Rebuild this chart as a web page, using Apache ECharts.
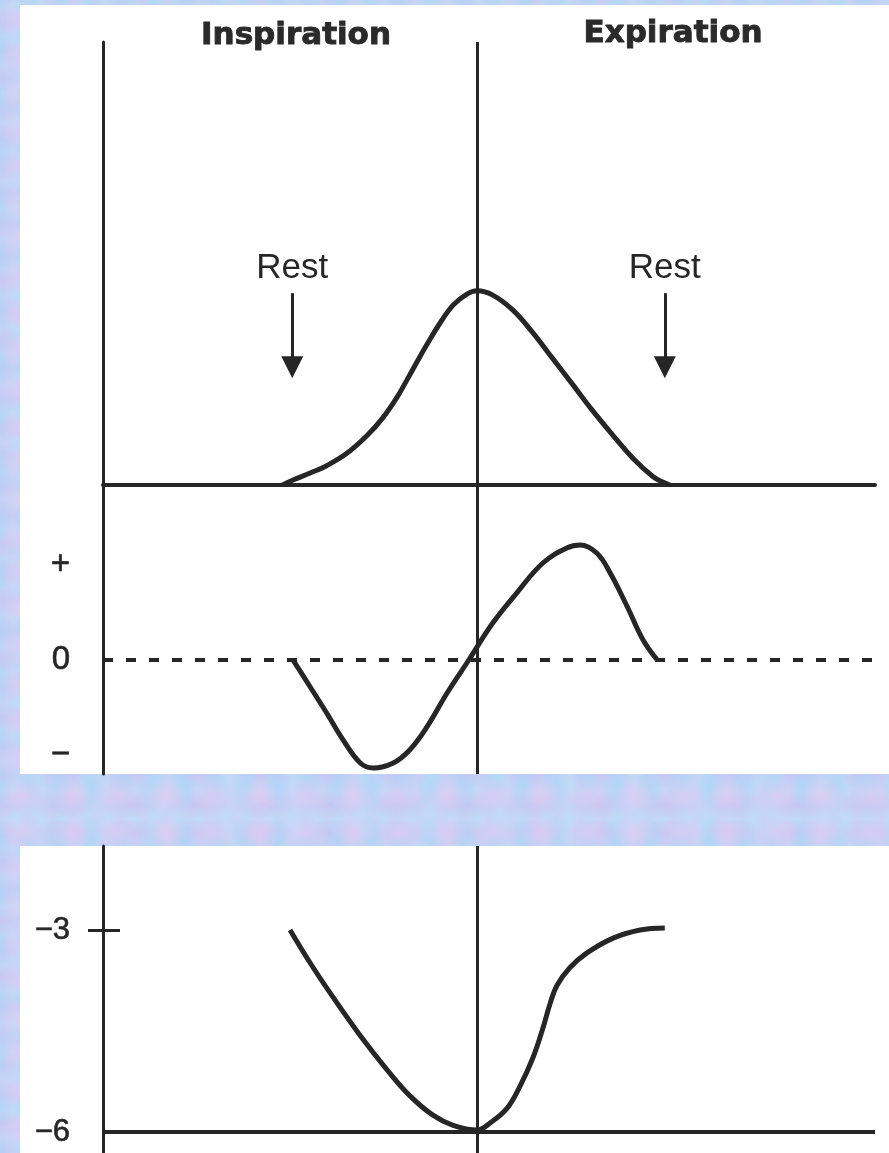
<!DOCTYPE html>
<html>
<head>
<meta charset="utf-8">
<script src="https://cdn.jsdelivr.net/npm/echarts@6/dist/echarts.min.js"></script>
<style>
  html, body { margin:0; padding:0; width:889px; height:1153px; overflow:hidden; }
  body {
    background-color:#c6d4f6;
    background-image:
      radial-gradient(ellipse at center, rgba(226,202,242,0.75) 0%, rgba(226,202,242,0) 70%),
      radial-gradient(ellipse at center, rgba(168,214,246,0.7) 0%, rgba(168,214,246,0) 70%),
      radial-gradient(ellipse at center, rgba(200,192,240,0.7) 0%, rgba(200,192,240,0) 70%),
      radial-gradient(ellipse at center, rgba(185,225,248,0.6) 0%, rgba(185,225,248,0) 70%);
    background-size: 47px 37px, 31px 53px, 67px 29px, 23px 41px;
    background-position: 0 0, 13px 19px, 29px 7px, 5px 23px;
  }
  .panel { position:absolute; background:#fff; }
  #chart { position:absolute; left:0; top:0; width:889px; height:1153px; }
</style>
</head>
<body>
<div class="panel" style="left:20px;top:5px;width:869px;height:769px;"></div>
<div class="panel" style="left:20px;top:846px;width:869px;height:307px;"></div>
<div id="chart"></div>
<script>
// ---- data (time axis: arbitrary units, center line at t = 50) ----
const xMin = 0, xMax = 103.2, tCenter = 50;

// Top panel: lung volume above resting level
const tVolume = [24.0, 25.4, 27.7, 29.9, 32.6, 35.3, 37.4, 39.3, 40.6, 42.0, 43.3, 45.1, 46.8, 48.6, 50.0,
                 52.1, 54.8, 57.4, 60.1, 62.8, 65.4, 68.2, 70.9, 73.5, 74.9, 75.8];
const volume  = [0.0, 0.013, 0.031, 0.050, 0.082, 0.128, 0.174, 0.227, 0.271, 0.320, 0.364, 0.421, 0.466, 0.494, 0.503,
                 0.492, 0.453, 0.396, 0.328, 0.260, 0.194, 0.128, 0.068, 0.022, 0.007, 0.0];

// Middle panel: airflow (+ / 0 / −)
const tFlow = [25.4, 27.7, 29.9, 32.1, 34.4, 36.1, 38.8, 41.0, 43.3, 46.0, 48.9,
               52.1, 55.3, 58.8, 62.0, 63.8, 66.0, 67.8, 70.1, 72.2, 74.1];
const flow  = [0.0, -0.284, -0.558, -0.842, -1.084, -1.137, -1.084, -0.947, -0.705, -0.347, 0.0,
               0.389, 0.705, 1.021, 1.179, 1.211, 1.126, 0.916, 0.558, 0.211, 0.0];
const flowTicks = [1, 0, -1];
const flowTickLabels = ['+', '0', '\u2212'];

// Bottom panel: pleural pressure
const tPressure = [25.0, 27.7, 30.7, 34.4, 38.0, 41.0, 44.1, 46.8, 50.0, 51.7, 54.0, 55.7, 57.5, 58.8,
                   59.8, 60.7, 62.4, 64.7, 68.2, 71.8, 75.1];
const pressure  = [-3.00, -3.49, -3.99, -4.57, -5.08, -5.46, -5.75, -5.90, -5.97, -5.87, -5.65, -5.33, -4.89, -4.46,
                   -4.08, -3.82, -3.56, -3.34, -3.12, -3.00, -2.97];
const pressureTicks = [-3, -6];
const pressureBase = -6;

// Annotations
const phaseLabels = ['Inspiration', 'Expiration'];
const restLabel = 'Rest';
const restArrowT = [25.3, 75.1];
const restArrowFrom = 0.497, restArrowTo = 0.305;
const restLabelV = 0.56;

// ---- chart ----
const ink = '#262626';
const pair = (xs, ys) => xs.map((x, i) => [x, ys[i]]);
const chart = echarts.init(document.getElementById('chart'), null, { renderer: 'canvas' });

const hiddenX = (gi) => ({ type:'value', gridIndex:gi, min:xMin, max:xMax, show:false });
const titleStyle = { fontFamily: 'DejaVu Sans', fontWeight: 'bold', fontSize: 31, color: '#2a2a2a',
                     textBorderColor: '#2a2a2a', textBorderWidth: 0.9 };
const pMin = -6 - 21/67.33, pMax = -6 + 286/67.33;

const option = {
  animation: false,
  backgroundColor: 'transparent',
  title: [
    { text: phaseLabels[0], left: 291, top: 15, textAlign: 'center', textStyle: titleStyle },
    { text: phaseLabels[1], left: 668, top: 13, textAlign: 'center', textStyle: titleStyle }
  ],
  grid: [
    { left: 103, right: 14, top: 42, bottom: 1153 - 485 },
    { left: 103, right: 14, top: 485, bottom: 1153 - 774 },
    { left: 103, right: 14, top: 846, bottom: 0 }
  ],
  xAxis: [
    { type:'value', gridIndex:0, min:xMin, max:xMax,
      axisLine: { show:true, lineStyle:{ color: ink, width: 4 } },
      axisTick: { show:false }, axisLabel: { show:false }, splitLine: { show:false } },
    hiddenX(1),
    hiddenX(2)
  ],
  yAxis: [
    { type:'value', gridIndex:0, min:0, max:(485-42)/386,
      axisLine: { show:true, lineStyle:{ color: ink, width: 3 } },
      axisTick: { show:false }, axisLabel: { show:false }, splitLine: { show:false } },
    { type:'value', gridIndex:1, min:-1.2, max:(660-485)/95,
      axisLine: { show:true, onZero:false, lineStyle:{ color: ink, width: 3 } },
      axisTick: { show:false }, splitLine: { show:false },
      axisLabel: { show:true, customValues: flowTicks, margin: 33,
        formatter: (v) => flowTickLabels[flowTicks.indexOf(v)],
        fontFamily: 'Liberation Sans', fontSize: 33, color: ink,
        textBorderColor: ink, textBorderWidth: 0.6 } },
    { type:'value', gridIndex:2, position:'left', min:pMin, max:pMax,
      axisLine: { show:true, onZero:false, lineStyle:{ color: ink, width: 3 } },
      axisTick: { show:true, customValues: [pressureTicks[0]], length: 15, lineStyle:{ color: ink, width: 3 } },
      splitLine: { show:false },
      axisLabel: { show:true, customValues: pressureTicks, margin: 33,
        formatter: (v) => '\u2212' + Math.abs(v),
        fontFamily: 'Liberation Sans', fontSize: 31, color: ink,
        textBorderColor: ink, textBorderWidth: 0.6 } },
    { type:'value', gridIndex:2, position:'left', offset:0, min:pMin, max:pMax,
      axisLine: { show:false },
      axisTick: { show:true, inside:true, customValues: [pressureTicks[0]], length: 17, lineStyle:{ color: ink, width: 3 } },
      axisLabel: { show:false }, splitLine: { show:false } }
  ],
  series: [
    { type:'line', xAxisIndex:0, yAxisIndex:0, data: pair(tVolume, volume),
      smooth: 0.4, symbol:'none', lineStyle:{ color: ink, width: 5 },
      markLine: { silent:true, animation:false, symbol:['none','none'], label:{ show:false },
        lineStyle:{ color: ink, width: 3, type:'solid' },
        data: [
          { xAxis: tCenter },
          [ { coord:[restArrowT[0], restArrowFrom], symbol:'none' },
            { coord:[restArrowT[0], restArrowTo], symbol:'triangle', symbolSize: 22 } ],
          [ { coord:[restArrowT[1], restArrowFrom], symbol:'none' },
            { coord:[restArrowT[1], restArrowTo], symbol:'triangle', symbolSize: 22 } ]
        ] },
      markPoint: { silent:true, symbol:'circle', symbolSize: 0,
        label: { show:true, position:'inside', formatter: restLabel,
          fontFamily:'Liberation Sans', fontSize: 35, color: ink },
        data: [ { coord:[restArrowT[0], restLabelV] }, { coord:[restArrowT[1], restLabelV] } ] }
    },
    { type:'line', xAxisIndex:1, yAxisIndex:1, data: pair(tFlow, flow),
      smooth: 0.4, symbol:'none', lineStyle:{ color: ink, width: 5 },
      markLine: { silent:true, animation:false, symbol:['none','none'], label:{ show:false },
        data: [
          { xAxis: tCenter, lineStyle:{ color: ink, width: 3, type:'solid' } },
          { yAxis: 0, lineStyle:{ color: ink, width: 4, type:[10,13] } }
        ] }
    },
    { type:'line', xAxisIndex:2, yAxisIndex:2, data: pair(tPressure, pressure),
      smooth: 0.4, symbol:'none', lineStyle:{ color: ink, width: 5 },
      markLine: { silent:true, animation:false, symbol:['none','none'], label:{ show:false },
        data: [
          { xAxis: tCenter, lineStyle:{ color: ink, width: 3, type:'solid' } },
          { yAxis: pressureBase, lineStyle:{ color: ink, width: 4, type:'solid' } }
        ] }
    }
  ]
};
chart.setOption(option);
</script>
</body>
</html>
